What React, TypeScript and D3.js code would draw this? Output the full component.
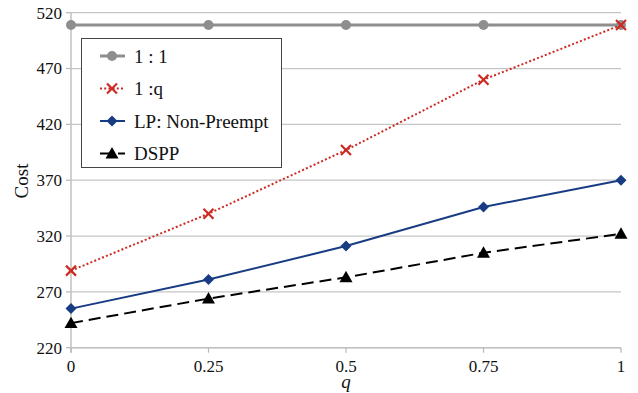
import React, { useEffect } from "react";
import * as d3 from "d3";

const qValues = [0, 0.25, 0.5, 0.75, 1];
const xTicks = [0, 0.25, 0.5, 0.75, 1];
const xTickLabels = ["0", "0.25", "0.5", "0.75", "1"];
const yTicks = [220, 270, 320, 370, 420, 470, 520];
const series11 = [509, 509, 509, 509, 509];
const series1q = [289, 340, 397, 460, 509];
const seriesLP = [255, 281, 311, 346, 370];
const seriesDSPP = [242, 264, 283, 305, 322];
const legendLabels = ["1 : 1", "1 :q", "LP: Non-Preempt", "DSPP"];

const W = 638;
const H = 393;
const FONT = "Liberation Serif, Times New Roman, DejaVu Serif, serif";

const COL_GRAY = "#8e8e8e";
const COL_RED = "#cc2a22";
const COL_NAVY = "#183c84";
const COL_BLACK = "#000000";

type Kind = "circle" | "x" | "diamond" | "triangle";

function Marker({ kind, x, y, color }: { kind: Kind; x: number; y: number; color: string }) {
  if (kind === "circle") return <circle cx={x} cy={y} r={5} fill={color} />;
  if (kind === "x") {
    const s = 5;
    return (
      <g stroke={color} strokeWidth={2.2}>
        <line x1={x - s} y1={y - s} x2={x + s} y2={y + s} />
        <line x1={x - s} y1={y + s} x2={x + s} y2={y - s} />
      </g>
    );
  }
  if (kind === "diamond") {
    const s = 5.5;
    return <path d={`M${x},${y - s}L${x + s},${y}L${x},${y + s}L${x - s},${y}Z`} fill={color} />;
  }
  const s = 6.5;
  return <path d={`M${x},${y - s}L${x + s},${y + s * 0.75}L${x - s},${y + s * 0.75}Z`} fill={color} />;
}

export default function App() {
  useEffect(() => {
    document.body.style.margin = "0";
  }, []);

  const x = d3.scaleLinear().domain([0, 1]).range([71, 621]);
  const y = d3.scaleLinear().domain([220, 520]).range([347.7, 12.7]);

  const line = d3
    .line<number>()
    .x((_, i) => x(qValues[i]))
    .y((d) => y(d));

  const all: { data: number[]; color: string; width: number; dash?: string; kind: Kind }[] = [
    { data: series11, color: COL_GRAY, width: 3, kind: "circle" },
    { data: series1q, color: COL_RED, width: 2, dash: "2,2.2", kind: "x" },
    { data: seriesLP, color: COL_NAVY, width: 2, kind: "diamond" },
    { data: seriesDSPP, color: COL_BLACK, width: 2, dash: "12,6", kind: "triangle" },
  ];

  const legendRowsY = [56, 88.5, 121, 153.5];
  const txt = { fontFamily: FONT };

  return (
    <svg width={W} height={H} style={{ display: "block", background: "#fff", fontFamily: FONT }}>
      {yTicks.map((t) => (
        <g key={t}>
          <line x1={x(0)} x2={x(1)} y1={y(t)} y2={y(t)} stroke="#c6c6c6" strokeWidth={1.2} />
          <line x1={x(0) - 5} x2={x(0)} y1={y(t)} y2={y(t)} stroke="#b8b8b8" strokeWidth={1.2} />
          <text style={txt} x={62} y={y(t)} dy="0.35em" textAnchor="end" fontSize={17} fill="#111">
            {t}
          </text>
        </g>
      ))}
      <line x1={x(0)} x2={x(0)} y1={y(520)} y2={y(220) + 5} stroke="#c0c0c0" strokeWidth={1.5} />
      <line x1={x(0)} x2={x(1)} y1={y(220)} y2={y(220)} stroke="#c0c0c0" strokeWidth={1.5} />
      {xTicks.map((t, i) => (
        <g key={t}>
          <line x1={x(t)} x2={x(t)} y1={y(220)} y2={y(220) + 5} stroke="#b8b8b8" strokeWidth={1.2} />
          <text style={txt} x={x(t)} y={y(220) + 24} textAnchor="middle" fontSize={17} fill="#111">
            {xTickLabels[i]}
          </text>
        </g>
      ))}
      <text style={txt} x={346} y={388} textAnchor="middle" fontSize={19} fontStyle="italic" fill="#111">
        q
      </text>
      <text
        style={txt}
        transform={`translate(28,181) rotate(-90)`}
        textAnchor="middle"
        fontSize={19}
        fill="#111"
      >
        Cost
      </text>

      {all.map((s, si) => (
        <g key={si}>
          <path
            d={line(s.data) || ""}
            fill="none"
            stroke={s.color}
            strokeWidth={s.width}
            strokeDasharray={s.dash}
          />
          {s.data.map((v, i) => (
            <Marker key={i} kind={s.kind} x={x(qValues[i])} y={y(v)} color={s.color} />
          ))}
        </g>
      ))}

      <rect x={81.5} y={38.5} width={200} height={129} fill="#fff" stroke="#444" strokeWidth={1} />
      {all.map((s, i) => (
        <g key={i}>
          <line
            x1={100}
            x2={125}
            y1={legendRowsY[i]}
            y2={legendRowsY[i]}
            stroke={s.color}
            strokeWidth={s.width}
            strokeDasharray={s.dash}
          />
          <Marker kind={s.kind} x={112} y={legendRowsY[i]} color={s.color} />
          <text style={txt} x={134} y={legendRowsY[i]} dy="0.35em" fontSize={19} fill="#111">
            {legendLabels[i]}
          </text>
        </g>
      ))}
    </svg>
  );
}
